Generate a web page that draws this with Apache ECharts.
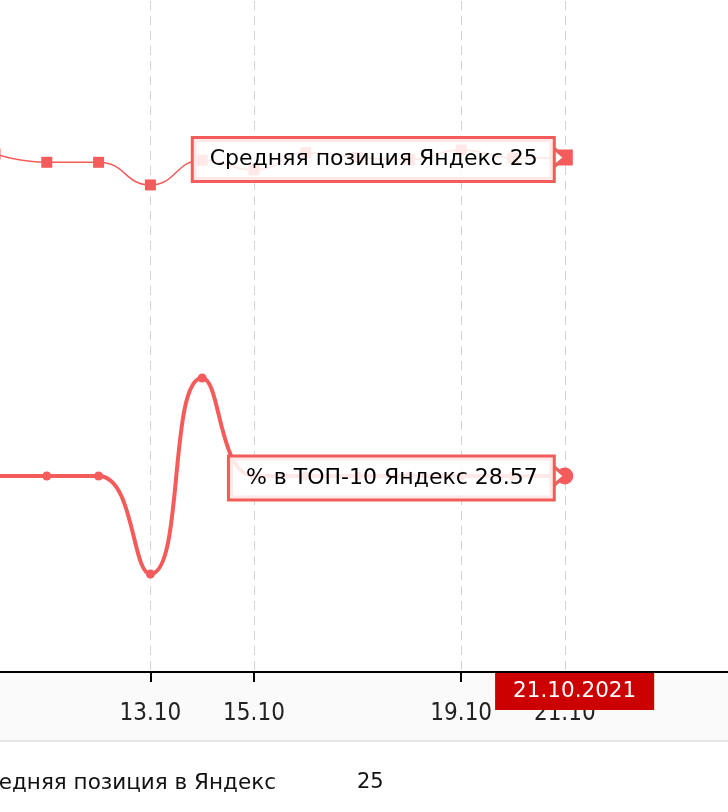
<!DOCTYPE html>
<html>
<head>
<meta charset="utf-8">
<script src="https://cdn.jsdelivr.net/npm/echarts@6/dist/echarts.min.js"></script>
<style>
html,body{margin:0;padding:0;background:#fff;overflow:hidden;}
#wrap{position:relative;width:728px;height:812px;overflow:hidden;}
#chart{position:absolute;left:-5px;top:-14px;width:777px;height:826px;}
</style>
</head>
<body>
<div id="wrap"><div id="chart"></div></div>
<script>
// ---- data ----
const dates = ['10.10','11.10','12.10','13.10','14.10','15.10','16.10','17.10','18.10','19.10','20.10','21.10'];
const axisExtraDates = ['22.10','23.10','24.10','25.10'];
const avgPosition = [24.5, 25.7, 25.7, 29.0, 25.4, 26.8, 24.3, 25.0, 25.3, 23.9, 25.1, 25];
const top10Share = [28.57, 28.57, 28.57, 14.29, 42.86, 28.57, 28.57, 28.57, 28.57, 28.57, 28.57, 28.57];
const tickLabels = ['13.10','15.10','19.10','21.10'];
const seriesNames = ['Средняя позиция Яндекс', '% в ТОП-10 Яндекс'];
const tableRow = ['Средняя позиция в Яндекс', '25'];
const year = '2021';

// ---- chart ----
const RED = '#f45b5b';
const OX = 5, OY = 14; // page -> chart offset
const last = dates.length - 1;
const allDates = dates.concat(axisExtraDates);
const showTick = (i) => tickLabels.indexOf(allDates[i]) >= 0;
const pointerLabelShift = 0.19; // red date badge sits slightly right of the tick

function callout(name, xName, yVal) {
  return {
    silent: true,
    animation: false,
    data: [
      { coord: [xName, yVal], value: yVal,
        symbol: 'path://M0,0 L14,12 L0,24 Z', symbolSize: [14, 24], symbolOffset: [-7, 0],
        itemStyle: { color: '#fff', borderColor: RED, borderWidth: 3 },
        label: { show: false } },
      { coord: [xName, yVal], value: yVal, symbol: 'circle', symbolSize: 0,
        itemStyle: { color: 'rgba(0,0,0,0)' },
        label: {
          show: true, position: 'left', distance: 12, offset: [0, 2],
          formatter: name + ' ' + yVal,
          color: '#000', fontSize: 22, lineHeight: 24,
          fontFamily: 'DejaVu Sans, Verdana, sans-serif',
          backgroundColor: 'rgba(255,255,255,0.86)',
          borderColor: RED, borderWidth: 3, padding: [9, 15, 8, 16]
        } }
    ]
  };
}

const chart = echarts.init(document.getElementById('chart'), null, { renderer: 'canvas' });
chart.setOption({
  animation: false,
  grid: { left: 0, right: 0, top: 0, bottom: 140, containLabel: false },
  xAxis: [{
    type: 'category',
    data: allDates,
    boundaryGap: false,
    position: 'bottom',
    axisLine: { onZero: false, lineStyle: { color: '#000', width: 2 } },
    axisTick: { show: true, interval: showTick, length: 10, lineStyle: { color: '#000', width: 2 } },
    axisLabel: {
      interval: showTick, margin: 30, color: '#222', fontSize: 24,
      fontFamily: 'DejaVu Sans Condensed, sans-serif'
    },
    splitLine: { show: true, interval: showTick, lineStyle: { color: '#d4d4d4', width: 1, type: [9, 6] } }
  }, {
    type: 'value',
    min: 0, max: allDates.length - 1,
    position: 'bottom',
    axisLine: { show: false, onZero: false },
    axisTick: { show: false },
    axisLabel: { show: false },
    splitLine: { show: false },
    axisPointer: {
      show: true, type: 'line', value: last + pointerLabelShift, snap: false, status: 'show',
      lineStyle: { opacity: 0 },
      label: {
        show: true, margin: 1,
        formatter: () => dates[last] + '.' + year,
        backgroundColor: '#cc0000', color: '#fff', padding: [7, 18, 8, 18],
        fontSize: 21.5, fontFamily: 'DejaVu Sans, Verdana, sans-serif',
        shadowBlur: 0, borderWidth: 0, borderRadius: 0
      }
    }
  }],
  yAxis: [
    { type: 'value', min: 0, max: 100, inverse: true, show: false, splitLine: { show: false } },
    { type: 'value', min: 0, max: 100, show: false, splitLine: { show: false } }
  ],
  series: [
    {
      name: seriesNames[0], type: 'line', yAxisIndex: 0, smooth: true,
      symbol: 'rect', symbolSize: 11, showSymbol: true,
      lineStyle: { color: RED, width: 1.5 }, itemStyle: { color: RED },
      data: avgPosition.map((v, i) => i === last ? { value: v, symbolSize: 16 } : v),
      markPoint: callout(seriesNames[0], dates[last], avgPosition[last]),
      z: 3
    },
    {
      name: seriesNames[1], type: 'line', yAxisIndex: 1, smooth: true,
      symbol: 'circle', symbolSize: 9, showSymbol: true,
      lineStyle: { color: RED, width: 4 }, itemStyle: { color: RED },
      data: top10Share.map((v, i) => i === last ? { value: v, symbolSize: 17 } : v),
      markPoint: callout(seriesNames[1], dates[last], top10Share[last]),
      z: 3
    }
  ],
  graphic: [
    { type: 'rect', z: -1, silent: true, shape: { x: 0, y: 673 + OY, width: 777, height: 67 }, style: { fill: '#fafafa' } },
    { type: 'line', z: -1, silent: true, shape: { x1: 0, y1: 741 + OY, x2: 777, y2: 741 + OY }, style: { stroke: '#e6e6e6', lineWidth: 2 } },
    { type: 'text', silent: true, x: 276 + OX, y: 783 + OY,
      style: { text: tableRow[0], align: 'right', verticalAlign: 'middle', fill: '#111', fontSize: 21.5,
               fontFamily: 'DejaVu Sans, sans-serif' } },
    { type: 'text', silent: true, x: 357 + OX, y: 783 + OY,
      style: { text: tableRow[1], align: 'left', verticalAlign: 'middle', fill: '#111', fontSize: 21,
               fontFamily: 'DejaVu Sans, sans-serif' } }
  ]
});
</script>
</body>
</html>
